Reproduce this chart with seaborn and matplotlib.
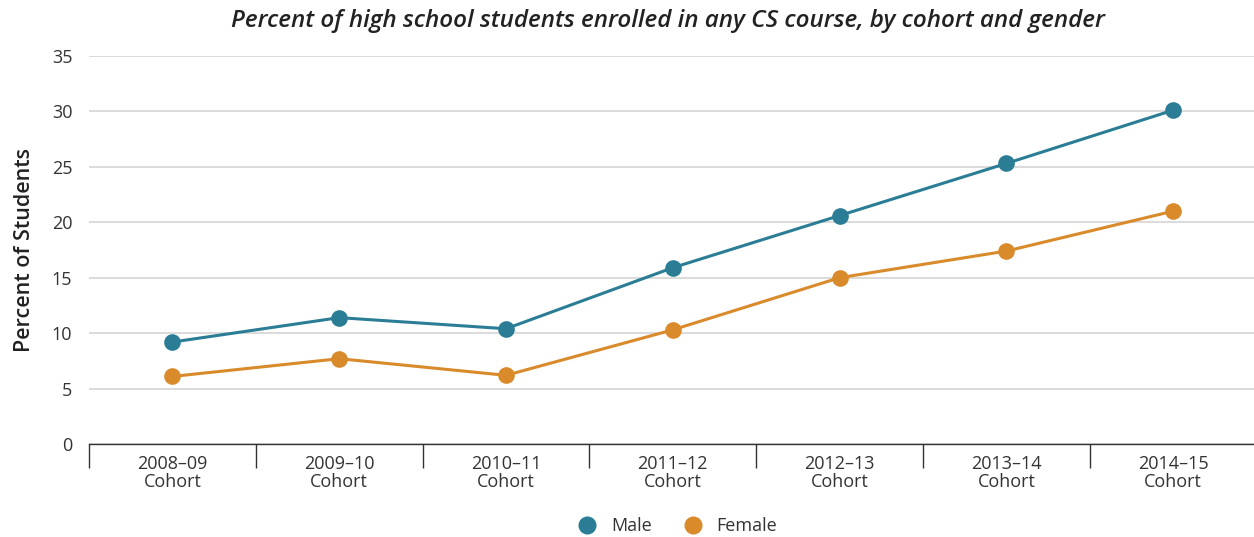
import pandas as pd
import seaborn as sns
import matplotlib.pyplot as plt

# Chart values
cohorts = ['2008–09\nCohort', '2009–10\nCohort', '2010–11\nCohort', '2011–12\nCohort',
           '2012–13\nCohort', '2013–14\nCohort', '2014–15\nCohort']
male = [9.2, 11.4, 10.4, 15.9, 20.6, 25.3, 30.1]
female = [6.1, 7.7, 6.2, 10.3, 15.0, 17.4, 21.0]
y_ticks = [0, 5, 10, 15, 20, 25, 30, 35]

# Long-form table for seaborn
df = pd.DataFrame({
    'Cohort': cohorts * 2,
    'Percent': male + female,
    'Gender': ['Male'] * len(cohorts) + ['Female'] * len(cohorts),
})
df['x'] = df['Cohort'].map({c: i for i, c in enumerate(cohorts)})

sns.set_style('white')
plt.rcParams['font.family'] = ['Open Sans', 'DejaVu Sans']

palette = {'Male': '#2b7d96', 'Female': '#d98b2b'}

fig = plt.figure(figsize=(12.54, 5.37), dpi=100)
ax = fig.add_axes([0.071, 0.173, 0.931, 0.723])

sns.lineplot(data=df, x='x', y='Percent', hue='Gender', palette=palette,
             marker='o', markersize=12, markeredgewidth=0, linewidth=2.2,
             ax=ax, legend=False, zorder=3)

ax.set_xlim(-0.5, len(cohorts) - 0.5)
ax.set_ylim(0, 35)
ax.set_yticks(y_ticks)
ax.tick_params(axis='y', length=0, labelsize=13, colors='#333333', pad=12)
ax.yaxis.grid(True, color='#d4d4d4', linewidth=1.2)
ax.set_axisbelow(True)

# category labels centered, boundary ticks at edges
ax.set_xticks(range(len(cohorts)))
ax.set_xticklabels(cohorts, fontsize=13, color='#333333', linespacing=1.0)
ax.tick_params(axis='x', which='major', length=0, pad=8)
ax.set_xticks([i - 0.5 for i in range(len(cohorts) + 1)], minor=True)
ax.tick_params(axis='x', which='minor', bottom=True, length=17, width=1,
               color='#333333', direction='out')

for s in ['left', 'right', 'top']:
    ax.spines[s].set_visible(False)
ax.spines['bottom'].set_color('#333333')
ax.spines['bottom'].set_linewidth(1)

ax.set_xlabel('')
ax.set_ylabel('Percent of Students', fontsize=15.5, fontweight='semibold', color='#222222', labelpad=12)

fig.text(0.533, 0.96, 'Percent of high school students enrolled in any CS course, by cohort and gender',
         ha='center', va='center', fontsize=17.5, style='italic', fontweight='semibold', color='#222222')

# legend
handles = [plt.Line2D([], [], marker='o', linestyle='', markersize=13, markeredgewidth=0,
                      color=palette[g]) for g in ['Male', 'Female']]
fig.legend(handles, ['Male', 'Female'], loc='center', bbox_to_anchor=(0.537, 0.02),
           ncol=2, frameon=False, fontsize=13, handletextpad=0.3, columnspacing=1.3,
           labelcolor='#333333')

fig.savefig('out.png', dpi=100)
